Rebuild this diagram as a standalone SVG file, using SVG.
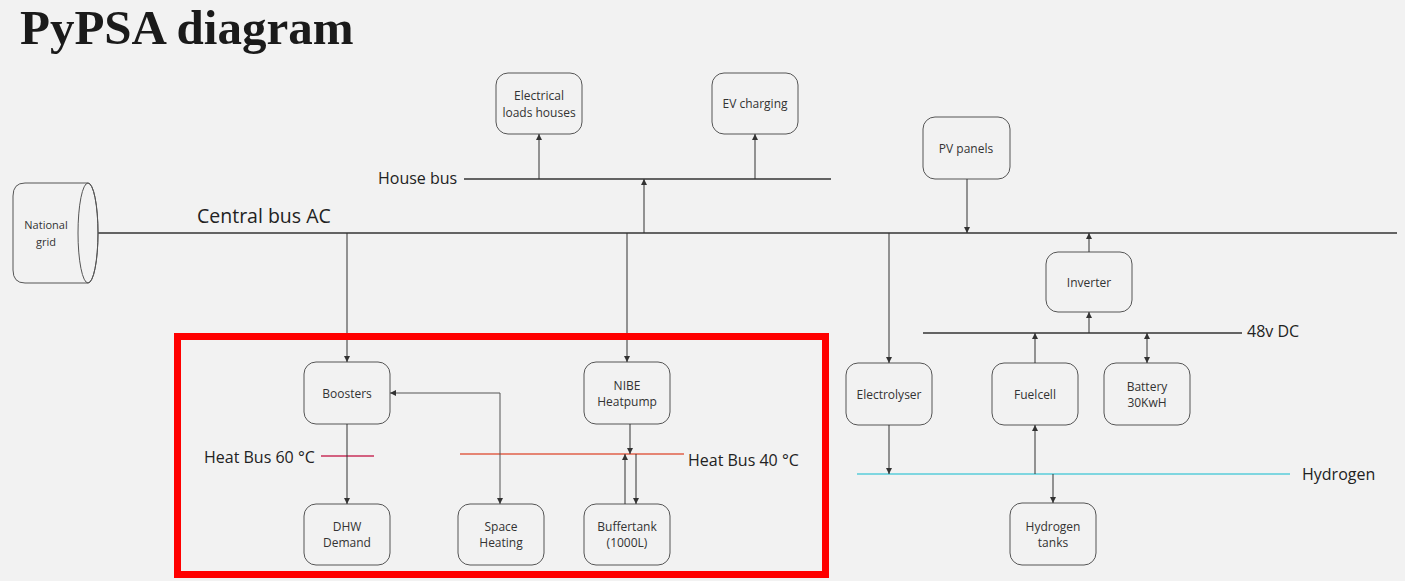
<svg xmlns="http://www.w3.org/2000/svg" width="1405" height="581" viewBox="0 0 1405 581">
<style>
.bg{fill:#f2f2f2}
.node rect{fill:none;stroke:#555;stroke-width:1}
.lbl{font-family:"Open Sans","Noto Sans",sans-serif;font-size:12px;fill:#333;text-anchor:middle}
.bus{stroke:#333;stroke-width:1.3;fill:none}
.buslbl{font-family:"Open Sans","Noto Sans",sans-serif;font-size:16px;fill:#222}
.c{stroke:#333;stroke-width:1;fill:none;marker-end:url(#ah)}
.title{font-family:"Liberation Serif","Times New Roman",serif;font-weight:bold;font-size:49px;fill:#1a1a1a}
</style>
<defs>
<marker id="ah" markerUnits="userSpaceOnUse" markerWidth="8" markerHeight="8" refX="6" refY="3" orient="auto-start-reverse">
<path d="M0,0 L6,3 L0,6 z" fill="#333"/>
</marker>
</defs>
<rect class="bg" x="0" y="0" width="1405" height="581"/>
<text class="title" x="20" y="44">PyPSA diagram</text>

<g id="buses">
<line class="bus" x1="98" y1="233" x2="1397" y2="233"/>
<text class="buslbl" x="197" y="223" style="font-size:19.5px">Central bus AC</text>
<line class="bus" x1="464" y1="179" x2="831" y2="179"/>
<text class="buslbl" x="378" y="184">House bus</text>
<line class="bus" x1="923" y1="333" x2="1242" y2="333"/>
<text class="buslbl" x="1247" y="337">48v DC</text>
<line x1="857" y1="474" x2="1290" y2="474" stroke="#7fd6e0" stroke-width="1.8"/>
<text class="buslbl" x="1302" y="480">Hydrogen</text>
<line x1="321" y1="456" x2="374" y2="456" stroke="#c8305a" stroke-width="1.3"/>
<text class="buslbl" x="204" y="463">Heat Bus 60 °C</text>
<line x1="460" y1="454" x2="684" y2="454" stroke="#e0604a" stroke-width="1.3"/>
<text class="buslbl" x="688" y="466">Heat Bus 40 °C</text>
</g>

<g id="national-grid" class="node">
<path d="M25,183 H88 A10,50 0 0 1 88,283 H25 Q13,283 13,270 V196 Q13,183 25,183 Z" fill="none" stroke="#555"/>
<ellipse cx="88" cy="233" rx="10" ry="50" fill="none" stroke="#555"/>
<text class="lbl" x="46" y="229" style="font-size:11px">National</text>
<text class="lbl" x="46" y="246" style="font-size:11px">grid</text>
</g>

<g id="electrical-loads" class="node"><rect x="496" y="73" width="86" height="61" rx="12"/><text class="lbl" x="539" y="100">Electrical</text><text class="lbl" x="539" y="117">loads houses</text></g>
<g id="ev-charging" class="node"><rect x="712" y="73" width="86" height="61" rx="12"/><text class="lbl" x="755" y="108">EV charging</text></g>
<g id="pv-panels" class="node"><rect x="923" y="117" width="87" height="62" rx="12"/><text class="lbl" x="966" y="153">PV panels</text></g>
<g id="inverter" class="node"><rect x="1046" y="252" width="86" height="60" rx="12"/><text class="lbl" x="1089" y="287">Inverter</text></g>
<g id="electrolyser" class="node"><rect x="846" y="363" width="86" height="62" rx="12"/><text class="lbl" x="889" y="399">Electrolyser</text></g>
<g id="fuelcell" class="node"><rect x="992" y="363" width="86" height="62" rx="12"/><text class="lbl" x="1035" y="399">Fuelcell</text></g>
<g id="battery" class="node"><rect x="1104" y="363" width="86" height="62" rx="12"/><text class="lbl" x="1147" y="391">Battery</text><text class="lbl" x="1147" y="407">30KwH</text></g>
<g id="hydrogen-tanks" class="node"><rect x="1010" y="503" width="86" height="62" rx="12"/><text class="lbl" x="1053" y="531">Hydrogen</text><text class="lbl" x="1053" y="547">tanks</text></g>
<g id="boosters" class="node"><rect x="304" y="362" width="86" height="62" rx="12"/><text class="lbl" x="347" y="398">Boosters</text></g>
<g id="nibe" class="node"><rect x="584" y="362" width="86" height="62" rx="12"/><text class="lbl" x="627" y="390">NIBE</text><text class="lbl" x="627" y="406">Heatpump</text></g>
<g id="dhw" class="node"><rect x="304" y="504" width="86" height="61" rx="12"/><text class="lbl" x="347" y="531">DHW</text><text class="lbl" x="347" y="547">Demand</text></g>
<g id="space-heating" class="node"><rect x="458" y="504" width="86" height="61" rx="12"/><text class="lbl" x="501" y="531">Space</text><text class="lbl" x="501" y="547">Heating</text></g>
<g id="buffertank" class="node"><rect x="584" y="504" width="86" height="61" rx="12"/><text class="lbl" x="627" y="531">Buffertank</text><text class="lbl" x="627" y="547">(1000L)</text></g>

<g id="connectors">
<path class="c" d="M644,233 V179"/>
<path class="c" d="M539,179 V134"/>
<path class="c" d="M755,179 V134"/>
<path class="c" d="M967,179 V233"/>
<path class="c" d="M1089,252 V233"/>
<path class="c" d="M1089,333 V312"/>
<path class="c" d="M889,233 V363"/>
<path class="c" d="M889,425 V474"/>
<path class="c" d="M1035,363 V333"/>
<path class="c" d="M1035,474 V425"/>
<path class="c" d="M1147,333 V363" style="marker-start:url(#ah)"/>
<path class="c" d="M1053,474 V503"/>
<path class="c" d="M347,233 V362"/>
<path class="c" d="M627,233 V362"/>
<path class="c" d="M347,424 V504"/>
<path class="c" d="M500,504 V393 H390" style="marker-start:url(#ah);stroke:#555"/>
<path class="c" d="M630,424 V454"/>
<path class="c" d="M625,504 V454"/>
<path class="c" d="M636,454 V504"/>
</g>

<rect id="highlight" x="177.5" y="336.5" width="648" height="238" fill="none" stroke="#ff0000" stroke-width="7"/>
</svg>
